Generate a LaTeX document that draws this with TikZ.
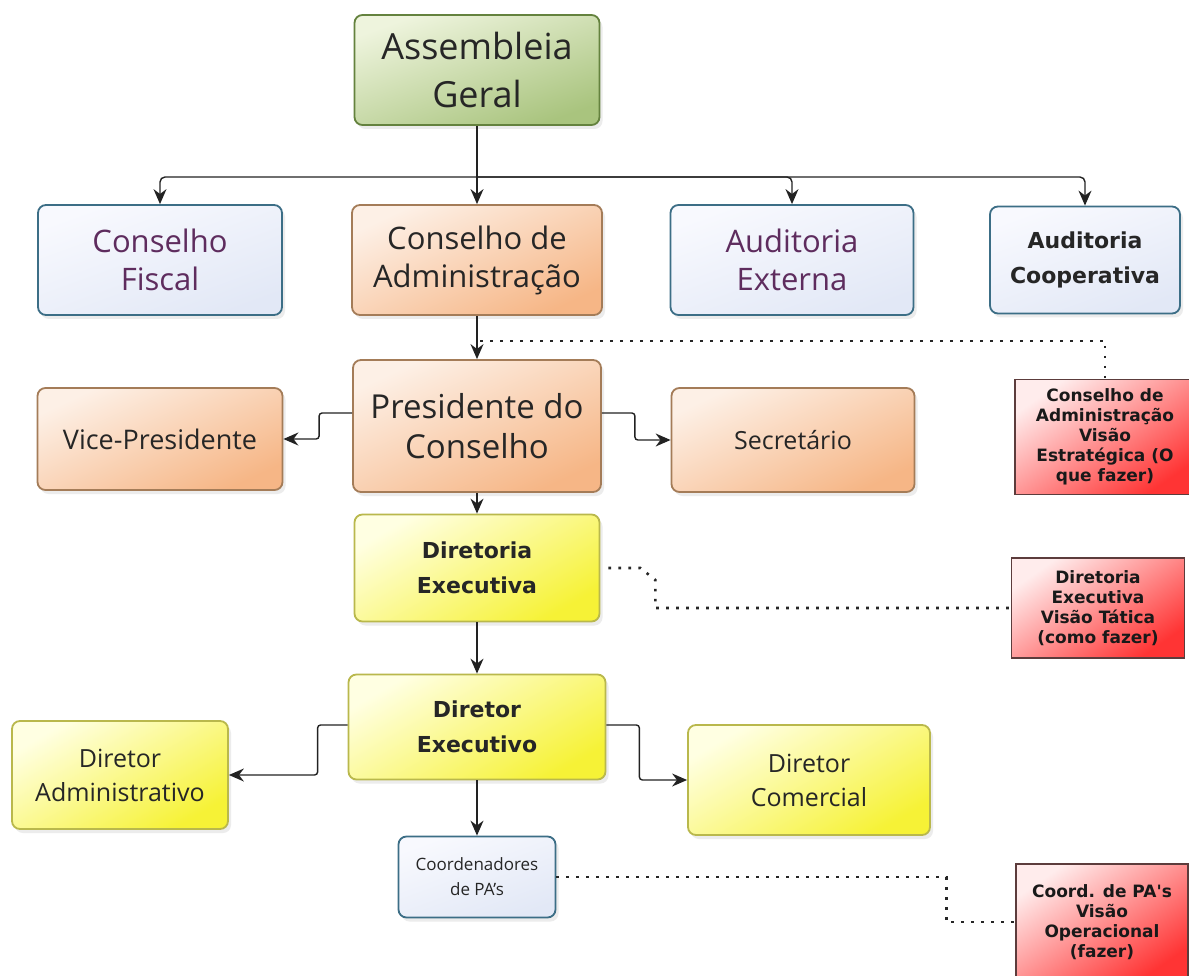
\documentclass[tikz,border=0pt]{standalone}
\usepackage{fontspec}
\setmainfont{Open Sans}
\newfontfamily\tahoma{DejaVu Sans}
\usepackage{tikz}
\usetikzlibrary{arrows.meta,shadows}
\usepackage{xcolor}

\definecolor{agline}{HTML}{64823E}
\definecolor{agtop}{HTML}{EEF4DD}
\definecolor{agbot}{HTML}{A9C47E}
\definecolor{blline}{HTML}{3C6E86}
\definecolor{bltop}{HTML}{F8F9FE}
\definecolor{blbot}{HTML}{E2E8F6}
\definecolor{orline}{HTML}{A47C58}
\definecolor{ortop}{HTML}{FDF0E6}
\definecolor{orbot}{HTML}{F6B686}
\definecolor{yeline}{HTML}{B9B84C}
\definecolor{yetop}{HTML}{FFFFE2}
\definecolor{yebot}{HTML}{F6F236}
\definecolor{reline}{HTML}{5C3C3C}
\definecolor{retop}{HTML}{FFECEC}
\definecolor{rebot}{HTML}{FF3434}
\definecolor{purpletext}{HTML}{5E2C5E}
\definecolor{linecol}{HTML}{222222}

\begin{document}
\begin{tikzpicture}[x=1pt,y=1pt,>={Stealth[length=15pt,width=13pt]},
    node distance=190pt,
    base node/.style={rounded corners=8pt,line width=1.8pt,align=center,inner sep=2pt,
      text=black!85,drop shadow={opacity=0.15,shadow xshift=3pt,shadow yshift=-4pt}},
    green node/.style={base node,draw=agline,top color=agtop,bottom color=agbot,shading angle=20},
    blue node/.style={base node,draw=blline,top color=bltop,bottom color=blbot,shading angle=20},
    orange node/.style={base node,draw=orline,top color=ortop,bottom color=orbot,shading angle=25},
    yellow node/.style={base node,draw=yeline,top color=yetop,bottom color=yebot,shading angle=30},
    red node/.style={line width=1.3pt,draw=reline,top color=retop,bottom color=rebot,shading angle=35,
      align=center,inner sep=2pt,text=black!90,font=\tahoma\bfseries\fontsize{17}{20}\selectfont},
    huge text/.style={font=\fontsize{36}{48}\selectfont},
    large text/.style={font=\fontsize{31}{38}\selectfont},
    mid text/.style={font=\fontsize{25}{34}\selectfont},
    bold text/.style={font=\tahoma\bfseries\fontsize{22}{35}\selectfont},
    conn/.style={line width=1.4pt,draw=linecol},
    dots/.style={line width=2.6pt,draw=black!85,dash pattern=on 2.6pt off 7.4pt}]

  \clip (0,0) rectangle (1189,-976);
  \fill[white] (0,0) rectangle (1189,-976);

  % Nodes
  \node[green node,huge text,minimum width=245pt,minimum height=110pt] (ag) at (477,-70) {Assembleia\\Geral};
  \coordinate[below of = ag, node distance=107pt] (bus);
  \node[orange node,large text,minimum width=250pt,minimum height=110pt] (adm) [below of = ag] {Conselho de\\Administração};
  \node[blue node,large text,text=purpletext,minimum width=244pt,minimum height=110pt] (fis) [left of = adm, node distance=317pt] {Conselho\\Fiscal};
  \node[blue node,large text,text=purpletext,minimum width=243pt,minimum height=110pt] (ext) [right of = adm, node distance=315pt] {Auditoria\\Externa};
  \node[blue node,bold text,minimum width=190pt,minimum height=107pt] (coop) [right of = ext, node distance=293pt] {Auditoria\\Cooperativa};

  \node[orange node,font=\fontsize{33}{40}\selectfont,minimum width=248pt,minimum height=132pt] (pres) [below of = adm, node distance=166pt] {Presidente do\\Conselho};
  \node[orange node,font=\fontsize{27}{34}\selectfont,minimum width=245pt,minimum height=102pt] (vice) [left of = pres, node distance=317pt, yshift=-13pt] {Vice-Presidente};
  \node[orange node,mid text,minimum width=243pt,minimum height=104pt] (sec) [right of = pres, node distance=316pt, yshift=-14pt] {Secretário};

  \node[yellow node,bold text,minimum width=245pt,minimum height=107pt] (dire) [below of = pres, node distance=142pt] {Diretoria\\Executiva};
  \node[yellow node,bold text,minimum width=257pt,minimum height=105pt] (dexe) [below of = dire, node distance=159pt] {Diretor\\Executivo};
  \node[yellow node,mid text,minimum width=216pt,minimum height=108pt] (dadm) [left of = dexe, node distance=357pt, yshift=-48pt] {Diretor\\Administrativo};
  \node[yellow node,mid text,minimum width=242pt,minimum height=110pt] (dcom) [right of = dexe, node distance=332pt, yshift=-53pt] {Diretor\\Comercial};
  \node[blue node,font=\fontsize{17}{25}\selectfont,minimum width=157pt,minimum height=81pt] (coo) [below of = dexe, node distance=150pt] {Coordenadores\\de PA's};

  \node[red node,minimum width=180pt,minimum height=115pt] (r1) [right of = sec, node distance=312pt, yshift=3pt] {Conselho de\\Administração\\Visão\\Estratégica (O\\que fazer)};
  \node[red node,minimum width=173pt,minimum height=100pt] (r2) [right of = dire, node distance=621pt, yshift=-40pt] {Diretoria\\Executiva\\Visão Tática\\(como fazer)};
  \node[red node,minimum width=172pt,minimum height=116pt] (r3) [right of = coo, node distance=625pt, yshift=-45pt] {Coord. de PA's\\Visão\\Operacional\\(fazer)};

  % Edges
  \draw[conn,->] (ag.south) -- (adm.north);
  \draw[conn,->,rounded corners=5pt] (bus) -| (fis.north);
  \draw[conn,->,rounded corners=5pt] (bus) -| (ext.north);
  \draw[conn,->,rounded corners=5pt] (bus) -| (coop.north);
  \draw[conn,->] (adm.south) -- (pres.north);
  \draw[conn,->,rounded corners=3pt] ([yshift=13pt]pres.west) -- ++(-33,0) |- (vice.east);
  \draw[conn,->,rounded corners=3pt] ([yshift=13pt]pres.east) -- ++(33,0) |- (sec.west);
  \draw[conn,->] (pres.south) -- (dire.north);
  \draw[conn,->] (dire.south) -- (dexe.north);
  \draw[conn,->,rounded corners=3pt] ([yshift=2pt]dexe.west) -- ++(-30,0) |- (dadm.east);
  \draw[conn,->,rounded corners=3pt] ([yshift=2pt]dexe.east) -- ++(33,0) |- (dcom.west);
  \draw[conn,->] (dexe.south) -- (coo.north);

  % Dotted links
  \draw[dots] ([xshift=3pt,yshift=-25pt]adm.south) -| (r1.north);
  \draw[dots] ([xshift=8pt]dire.east) -- ++(32,0) -- ++(15,-12) |- (r2.west);
  \draw[dots] (coo.east) -- ++(390,0) |- (r3.west);
\end{tikzpicture}
\end{document}
